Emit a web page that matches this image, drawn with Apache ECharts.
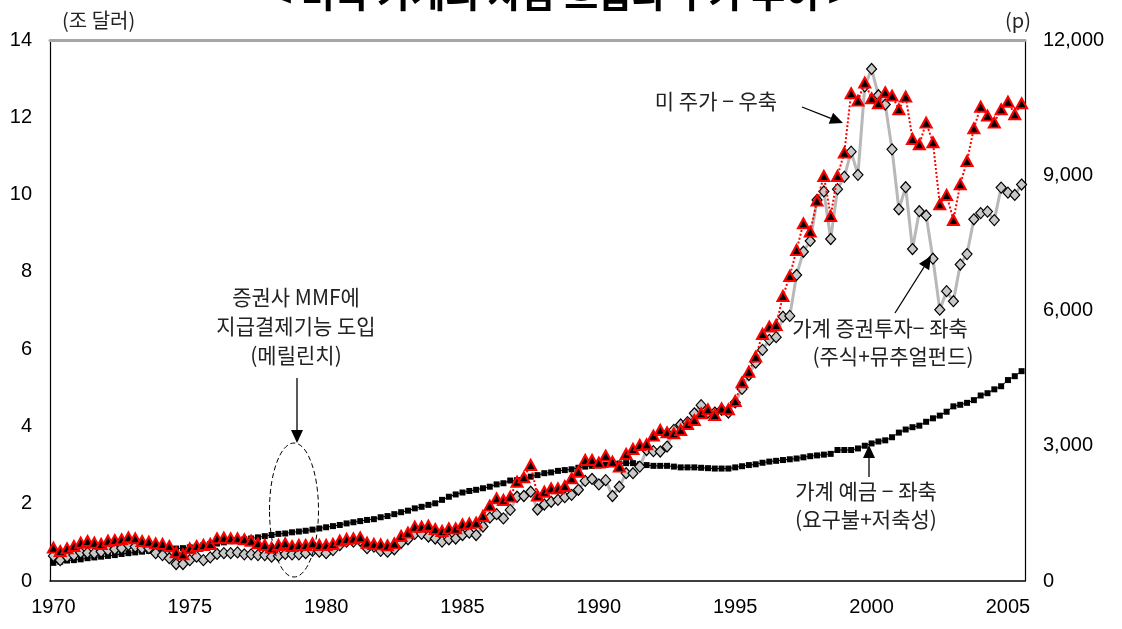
<!DOCTYPE html>
<html><head><meta charset="utf-8">
<script src="https://cdn.jsdelivr.net/npm/echarts@6/dist/echarts.min.js"></script>
<style>html,body{margin:0;padding:0;background:#fff}#c{width:1122px;height:629px}</style>
</head><body><div id="c"></div>
<script>
// quarterly data 1970Q1 .. 2005Q3
const startYear = 1970;
const nQuarters = 143;
const yearLabelStep = 20; // a label every 5 years

// 가계 예금 (요구불+저축성), 조 달러 – left axis
const deposits = [
0.47,0.50,0.53,0.54,0.56,0.59,0.61,0.63,0.65,0.67,
0.70,0.72,0.74,0.76,0.78,0.80,0.80,0.82,0.84,0.85,
0.87,0.89,0.93,0.96,0.97,1.00,1.03,1.06,1.08,1.10,
1.13,1.16,1.19,1.22,1.23,1.26,1.28,1.30,
1.33,1.36,1.39,
1.42,1.45,1.49,1.52,1.55,1.58,1.60,1.65,1.68,1.73,
1.78,1.82,1.88,1.92,1.97,2.01,2.10,2.18,2.24,2.29,
2.33,2.36,2.40,2.44,2.50,2.53,2.60,2.61,2.67,2.70,
2.74,2.79,2.81,2.85,2.87,2.89,2.93,2.96,2.98,2.99,
3.01,3.03,3.04,3.05,3.05,3.02,3.00,2.98,2.98,2.98,
2.96,2.94,2.94,2.94,2.93,2.92,2.91,2.91,2.91,2.94,
2.97,3.00,3.02,3.06,3.09,3.11,3.13,3.15,3.17,3.20,
3.23,3.25,3.27,3.29,3.39,3.39,3.39,3.43,3.50,3.56,
3.61,3.64,3.72,3.84,3.92,3.98,4.02,4.12,4.21,4.28,
4.38,4.52,4.56,4.61,4.68,4.80,4.86,4.96,5.04,5.20,5.30,5.43
];

// 가계 증권투자 (주식+뮤추얼펀드), 조 달러 – left axis
const securities = [
0.65,0.54,0.63,0.67,0.73,0.73,0.72,0.76,0.80,0.82,
0.85,0.93,0.89,0.85,0.85,0.72,0.67,0.59,0.44,0.44,
0.54,0.63,0.54,0.61,0.70,0.72,0.72,0.74,0.69,0.69,
0.67,0.67,0.63,0.65,0.70,0.69,0.69,0.72,0.78,0.76,0.72,0.80,
0.93,1.02,1.02,1.04,0.85,0.89,0.78,0.76,0.82,0.99,
1.08,1.22,1.22,1.15,1.10,1.02,1.08,1.10,1.19,1.25,
1.19,1.41,1.64,1.73,1.62,1.84,2.18,2.20,2.31,1.85,
1.98,2.05,2.10,2.17,2.23,2.36,2.59,2.64,2.50,2.61,
2.20,2.44,2.79,2.79,2.96,3.39,
3.36,3.35,3.48,3.91,4.05,4.11,4.34,4.55,4.36,4.36,4.43,4.36,4.62,4.97,5.33,
5.65,5.98,6.24,6.31,6.84,6.86,7.92,8.52,8.80,9.86,10.08,8.85,10.14,10.46,11.11,10.51,12.80,
13.25,12.57,12.33,11.17,9.62,10.19,8.59,9.57,9.46,8.34,7.02,7.50,7.24,8.19,8.46,9.36,9.52,9.56,9.34,10.18,10.05,9.99,10.26
];

// 미 주가 (p) – right axis
const stock = [
740,665,725,776,850,887,850,821,894,909,
925,969,947,887,872,836,821,776,636,592,
725,776,799,821,947,961,947,947,925,894,
836,799,740,799,836,776,799,799,836,799,799,821,
895,932,946,969,850,821,813,791,835,998,
1072,1205,1205,1227,1153,1109,1168,1168,1257,1279,
1294,1442,1671,1834,1797,1871,2203,2300,2573,1893,
1981,2056,2056,2107,2278,2425,2684,
2684,2625,2780,2647,2536,2817,2928,3017,3032,3224,3350,3298,3276,3350,3483,3571,3720,3808,3682,3830,3808,3993,4407,4643,
4976,5479,5642,5679,6322,6766,7343,7934,7749,8437,8984,8097,8984,9502,10818,10655,11054,
10707,10596,10840,10766,10463,10744,9805,9687,10167,9731,8356,8563,8008,8800,9317,10042,10521,10322,10167,10463,10632,10353,10596
];

const leftTicks = {min: 0, max: 14, interval: 2};
const rightTicks = {min: 0, max: 12000, interval: 3000};

const categories = [];
for (let i = 0; i < nQuarters; i++) {
  categories.push((startYear + Math.floor(i / 4)) + 'Q' + (i % 4 + 1));
}

const NUM_FONT = 'Liberation Sans, Arial, sans-serif';
const KR_FONT = '"Noto Sans CJK KR", "Liberation Sans", sans-serif';
const TXT = '#222';

const chart = echarts.init(document.getElementById('c'), null, {renderer: 'canvas'});

function arrow(x1, y1, x2, y2) {
  const dx = x2 - x1, dy = y2 - y1, L = Math.hypot(dx, dy);
  const ux = dx / L, uy = dy / L, hl = 13, hw = 6;
  const bx = x2 - ux * hl, by = y2 - uy * hl;
  return [
    {type: 'line', shape: {x1, y1, x2: bx, y2: by}, style: {stroke: '#000', lineWidth: 1.3}, z: 50},
    {type: 'polygon', shape: {points: [[x2, y2], [bx - uy * hw, by + ux * hw], [bx + uy * hw, by - ux * hw]]},
     style: {fill: '#000'}, z: 50}
  ];
}
function label(text, x, y, size, align) {
  return {type: 'text', x, y, z: 50,
    style: {text, fill: TXT, font: (size || 21) + 'px ' + KR_FONT, textAlign: align || 'center', textVerticalAlign: 'middle'}};
}

const graphics = [].concat(
  [{type: 'text', x: 560, y: -6, z: 50,
    style: {text: '< 미국 가계의 자금 흐름과 주가 추이 >', fill: '#000', font: 'bold 37px ' + KR_FONT,
            textAlign: 'center', textVerticalAlign: 'middle'}}],
  [label('(조 달러)', 62, 20, 20, 'left'), label('(p)', 1031, 20, 20, 'right')],
  [label('미 주가 − 우축', 716, 101)], arrow(802, 107, 843, 123),
  [label('가계 증권투자− 좌축', 880, 328), label('(주식+뮤추얼펀드)', 893, 356)], arrow(895, 313, 931, 256),
  [label('가계 예금 − 좌축', 866, 491), label('(요구불+저축성)', 866, 519)], arrow(869, 477, 869, 445),
  [label('증권사 MMF에', 296, 297), label('지급결제기능 도입', 296, 326), label('(메릴린치)', 296, 355)],
  arrow(297, 378, 297, 443),
  [{type: 'ellipse', shape: {cx: 294, cy: 510, rx: 24.5, ry: 67}, z: 50,
    style: {fill: 'none', stroke: '#000', lineWidth: 1, lineDash: [5, 3]}}]
);

chart.setOption({
  animation: false,
  backgroundColor: '#fff',
  grid: {left: 50, right: 97, top: 40, bottom: 48, containLabel: false},
  xAxis: [{
    type: 'category', data: categories, boundaryGap: true, position: 'bottom',
    axisLine: {onZero: false, lineStyle: {color: '#000', width: 1.5}},
    axisTick: {show: false},
    axisLabel: {interval: (i) => i % yearLabelStep === 0, formatter: (v) => v.slice(0, 4),
                color: '#000', fontSize: 20, fontFamily: NUM_FONT, margin: 16},
    splitLine: {show: false}
  }, {
    type: 'category', data: categories, position: 'top', boundaryGap: true,
    axisLine: {onZero: false, lineStyle: {color: '#a6a6a6', width: 3}},
    axisTick: {show: false}, axisLabel: {show: false}, splitLine: {show: false}
  }],
  yAxis: [{
    type: 'value', position: 'left', min: leftTicks.min, max: leftTicks.max, interval: leftTicks.interval,
    axisLine: {show: true, onZero: false, lineStyle: {color: '#000', width: 1.2}},
    axisTick: {show: false}, splitLine: {show: false},
    axisLabel: {color: '#000', fontSize: 20, fontFamily: NUM_FONT, margin: 18}
  }, {
    type: 'value', position: 'right', min: rightTicks.min, max: rightTicks.max, interval: rightTicks.interval,
    axisLine: {show: true, onZero: false, lineStyle: {color: '#000', width: 1.2}},
    axisTick: {show: false}, splitLine: {show: false},
    axisLabel: {color: '#000', fontSize: 20, fontFamily: NUM_FONT, margin: 18,
                formatter: (v) => v.toLocaleString('en-US')}
  }],
  series: [{
    name: '가계 예금', type: 'line', data: deposits, yAxisIndex: 0,
    symbol: 'rect', symbolSize: 6, showAllSymbol: true,
    lineStyle: {color: '#000', width: 1},
    itemStyle: {color: '#000', borderWidth: 0}, z: 3
  }, {
    name: '가계 증권투자', type: 'line', data: securities, yAxisIndex: 0,
    symbol: 'diamond', symbolSize: [10, 11], showAllSymbol: true,
    lineStyle: {color: '#b8b8b8', width: 3},
    itemStyle: {color: '#c8c8c8', borderColor: '#000', borderWidth: 1.2}, z: 4
  }, {
    name: '미 주가', type: 'line', data: stock, yAxisIndex: 1,
    symbol: 'triangle', symbolSize: [11, 10], showAllSymbol: true,
    lineStyle: {color: '#ff0000', width: 2, type: 'dotted'},
    itemStyle: {color: '#000', borderColor: '#ff0000', borderWidth: 2}, z: 5
  }],
  graphic: graphics
});
</script></body></html>
